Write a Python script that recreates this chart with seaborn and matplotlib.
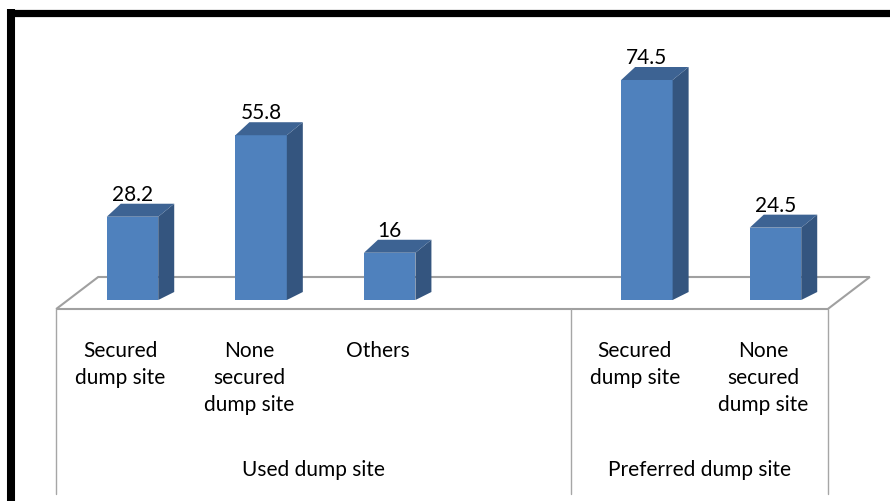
import numpy as np
import pandas as pd
import matplotlib
matplotlib.use("Agg")
import matplotlib.pyplot as plt
import seaborn as sns
from matplotlib.transforms import Affine2D
from matplotlib.patches import Polygon
from matplotlib.lines import Line2D

# ---- data ----
categories = ["Secured\ndump site", "None\nsecured\ndump site", "Others",
              "Secured\ndump site", "None\nsecured\ndump site"]
values = [28.2, 55.8, 16, 74.5, 24.5]
value_labels = ["28.2", "55.8", "16", "74.5", "24.5"]
slots = [0, 1, 2, 4, 5]
group_names = ["Used dump site", "Preferred dump site"]
group_bounds = [(0, 4), (4, 6)]

sns.set_theme(style="white")
plt.rcParams['font.family'] = ['Lato', 'DejaVu Sans']

W, H = 890, 502
fig = plt.figure(figsize=(W / 100, H / 100), dpi=100)
fig.patch.set_facecolor("white")

slot_px = 128.6
x0px = 132.5
left = x0px - 0.5 * slot_px
right = x0px + 5.5 * slot_px
ybase = 301
ppu = 2.953
ymax = 90
ax = fig.add_axes([left / W, (H - ybase) / H, (right - left) / W, ymax * ppu / H])

df = pd.DataFrame({"slot": slots, "value": values})
sns.barplot(data=df, x="slot", y="value", native_scale=True, width=0.4,
            color="#4F81BD", saturation=1, errorbar=None, linewidth=0,
            ax=ax, zorder=3)
ax.set_xlim(-0.5, 5.5)
ax.set_ylim(0, ymax)
ax.axis("off")

pix = Affine2D().scale(1 / W, -1 / H).translate(0, 1) + fig.transFigure


def to_pix(x, y):
    d = ax.transData.transform((x, y))
    return d[0], H - d[1]


# floor geometry (front edge derived from slot boundaries)
shift = 12
fl_x, _ = to_pix(-0.5, 0)
fr_x, _ = to_pix(5.5, 0)
fl_x -= shift
fr_x -= shift
y_front, y_back = 310, 278
dback = 42
floor = Polygon([(fl_x + dback, y_back), (fr_x + dback, y_back), (fr_x, y_front), (fl_x, y_front)],
                closed=True, facecolor="white", edgecolor="#A0A0A0", lw=1.5,
                transform=pix, clip_on=False, zorder=1)
ax.add_patch(floor)

# 3D faces for each bar
dx = 16
for p in list(ax.patches):
    if p is floor:
        continue
    x0 = p.get_x(); w = p.get_width(); h = p.get_height()
    if not np.isfinite(h) or h <= 0:
        continue
    px0, pyb = to_pix(x0, 0)
    px1, pyt = to_pix(x0 + w, h)
    side = Polygon([(px1, pyb), (px1 + dx, pyb - 8), (px1 + dx, pyt - 13), (px1, pyt)],
                   closed=True, facecolor="#34557F", edgecolor="none",
                   transform=pix, clip_on=False, zorder=3)
    top = Polygon([(px0, pyt), (px0 + dx - 2, pyt - 13), (px1 + dx, pyt - 13), (px1, pyt)],
                  closed=True, facecolor="#3D6393", edgecolor="none",
                  transform=pix, clip_on=False, zorder=3)
    ax.add_patch(side)
    ax.add_patch(top)

FS = 15

# value labels
for s, v, lab in zip(slots, values, value_labels):
    ax.annotate(lab, (s, v), xytext=(0, 17), textcoords="offset pixels",
                ha="center", va="baseline", fontsize=FS, color="black", zorder=5)

# divider lines
for b in [0, 4, 6]:
    bx, _ = to_pix(b - 0.5, 0)
    bx -= shift
    ax.add_line(Line2D([bx, bx], [y_front, 495], color="#A6A6A6", lw=1.0,
                       transform=pix, clip_on=False, zorder=1))

# category labels (one text per line, baseline-aligned)
for s, c in zip(slots, categories):
    cx, _ = to_pix(s, 0)
    cx -= shift
    for k, line in enumerate(c.split("\n")):
        ax.text(cx, 357 + 27 * k, line, ha="center", va="baseline", fontsize=FS,
                color="black", transform=pix, clip_on=False)

# group labels
for g, (a, b) in zip(group_names, group_bounds):
    xa, _ = to_pix(a - 0.5, 0)
    xb, _ = to_pix(b - 0.5, 0)
    ax.text((xa + xb) / 2 - shift, 476, g, ha="center", va="baseline", fontsize=FS,
            color="black", transform=pix, clip_on=False)

# thick black frame (top and left)
fig.add_artist(Line2D([7, W], [13.5, 13.5], color="black", lw=5.2,
                      solid_capstyle="butt", transform=pix))
fig.add_artist(Line2D([11, 11], [10, H], color="black", lw=5.8,
                      solid_capstyle="butt", transform=pix))

fig.savefig("out.png", dpi=100)
